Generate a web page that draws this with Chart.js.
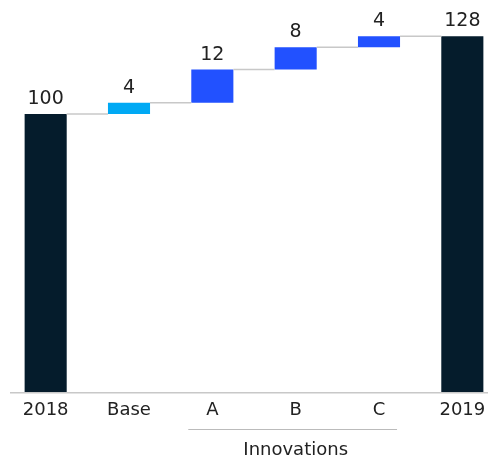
<!DOCTYPE html>
<html lang="en">

<head>
    <meta charset="UTF-8">
    <title>Waterfall 2018 to 2019</title>
    <script src="https://cdn.jsdelivr.net/npm/chart.js"></script>
    <style>
        html,
        body {
            margin: 0;
            padding: 0;
            overflow: hidden;
            background: #fff;
        }

        #wrap {
            position: relative;
            width: 510px;
            height: 457px;
        }
    </style>
</head>

<body>
    <div id="wrap">
        <canvas id="waterfall"></canvas>
    </div>

    <script>
        const categories = ['2018', 'Base', 'A', 'B', 'C', '2019'];
        const values = [100, 4, 12, 8, 4, 128];
        const kinds = ['total', 'base', 'step', 'step', 'step', 'total'];
        const groupLabel = 'Innovations';
        const groupFrom = 'A';
        const groupTo = 'C';

        const colorFor = { total: '#051c2c', base: '#00a9f4', step: '#2251ff' };
        const fontFamily = '"DejaVu Sans", sans-serif';

        // floating bars: totals start at zero, steps sit on the running sum
        let running = 0;
        const floating = values.map((v, i) => {
            if (kinds[i] === 'total') {
                running = v;
                return [0, v];
            }
            const bar = [running, running + v];
            running += v;
            return bar;
        });

        const extras = {
            id: 'extras',
            afterDatasetsDraw(chart) {
                const ctx = chart.ctx;
                const y = chart.scales.y;
                const bars = chart.getDatasetMeta(0).data;
                ctx.save();

                // connectors between bars
                ctx.strokeStyle = '#c8c8c8';
                ctx.lineWidth = 1.5;
                for (let i = 0; i < bars.length - 1; i++) {
                    const level = y.getPixelForValue(floating[i][1]);
                    ctx.beginPath();
                    ctx.moveTo(bars[i].x + bars[i].width / 2, level);
                    ctx.lineTo(bars[i + 1].x - bars[i + 1].width / 2, level);
                    ctx.stroke();
                }

                // base line
                const base = y.getPixelForValue(0) + 0.75;
                ctx.beginPath();
                ctx.moveTo(10, base);
                ctx.lineTo(chart.width, base);
                ctx.stroke();

                // value labels
                ctx.fillStyle = '#222';
                ctx.font = '19px ' + fontFamily;
                ctx.textAlign = 'center';
                ctx.textBaseline = 'alphabetic';
                bars.forEach((b, i) => {
                    const top = y.getPixelForValue(floating[i][1]);
                    ctx.fillText(String(values[i]), b.x, top - 10);
                });

                // group bracket
                const a = bars[categories.indexOf(groupFrom)];
                const c = bars[categories.indexOf(groupTo)];
                const lx = a.x - a.width / 2 - 3;
                const rx = c.x + c.width / 2 - 3;
                ctx.beginPath();
                ctx.moveTo(lx, 429.5);
                ctx.lineTo(rx, 429.5);
                ctx.lineWidth = 1;
                ctx.strokeStyle = '#bbb';
                ctx.stroke();
                ctx.font = '18px ' + fontFamily;
                ctx.fillText(groupLabel, (a.x + c.x) / 2, 455);
                ctx.restore();
            }
        };

        new Chart(document.getElementById('waterfall'), {
            type: 'bar',
            data: {
                labels: categories,
                datasets: [{
                    data: floating,
                    backgroundColor: kinds.map(k => colorFor[k]),
                    borderWidth: 0,
                    categoryPercentage: 1,
                    barPercentage: 0.505
                }]
            },
            options: {
                responsive: true,
                maintainAspectRatio: false,
                animation: false,
                layout: { padding: { left: 4, right: 6, top: 0, bottom: 0 } },
                plugins: {
                    legend: { display: false },
                    tooltip: { enabled: false }
                },
                scales: {
                    x: {
                        grid: { display: false, drawTicks: false },
                        border: { display: false },
                        ticks: {
                            color: '#222',
                            padding: 8,
                            font: { family: fontFamily, size: 18 }
                        },
                        afterFit(scale) { scale.height = 65; }
                    },
                    y: {
                        display: false,
                        min: 0,
                        max: 141
                    }
                }
            },
            plugins: [extras]
        });
    </script>
</body>

</html>
